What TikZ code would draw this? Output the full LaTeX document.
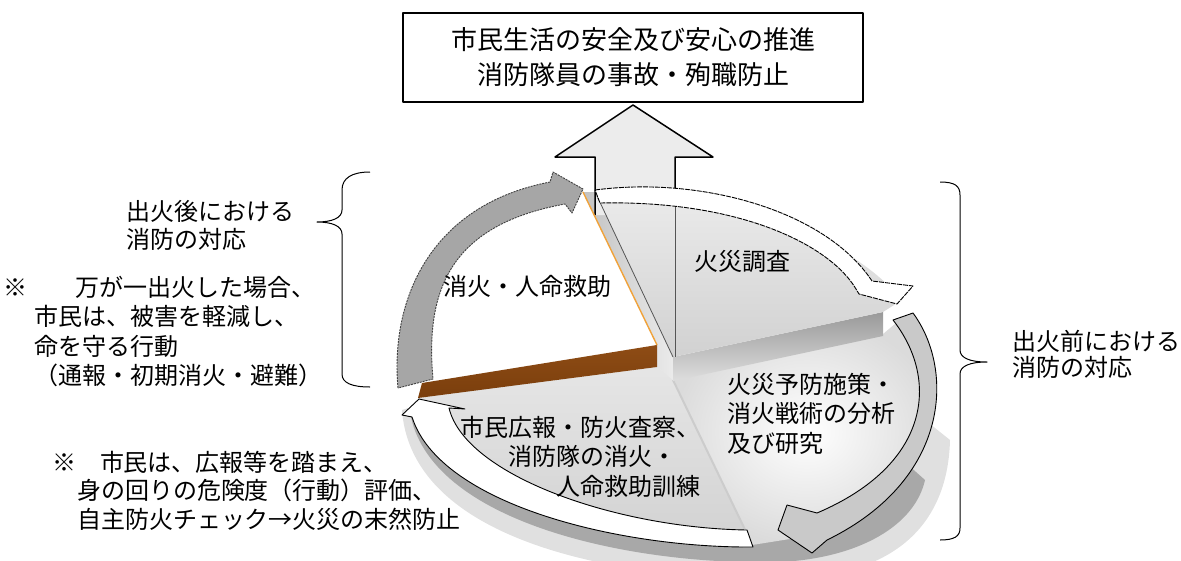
\documentclass[tikz,border=0pt]{standalone}
\usepackage{fontspec}
\setmainfont{Noto Sans CJK JP}
\definecolor{arrowgray}{HTML}{A6A6A6}
\definecolor{arrowlight}{HTML}{C9C9C9}
\definecolor{brownside}{HTML}{7A3E0C}
\definecolor{brownlight}{HTML}{8E4C15}
\definecolor{orangeedge}{HTML}{F0A23A}
\definecolor{bigarrow}{HTML}{ECECEC}
\definecolor{shadowdark}{HTML}{A8A8A8}
\definecolor{shadowsoft}{HTML}{E0E0E0}
\definecolor{edgegray}{HTML}{555555}
\begin{document}
\begin{tikzpicture}[x=1pt,y=-1pt,line join=round,
  txt/.style={inner sep=0pt,outer sep=0pt,text=black,font=\fontsize{24}{29.5}\selectfont},
  rimarrow/.style={line width=0.9pt,draw=black},
  bracestyle/.style={line width=1pt,draw=black}]
\useasboundingbox (0,0) rectangle (1181,560);

% soft shadow and side face under the pie
\fill[shadowsoft] (402,410) .. controls (412,548) and (640,584) .. (800,578)
  .. controls (900,572) and (948,520) .. (950,440) -- (900,400) -- (500,380) -- cycle;
\fill[shadowdark] (410,412) .. controls (428,522) and (630,566) .. (780,562)
  .. controls (860,558) and (915,525) .. (925,480) -- (880,440) -- (500,400) -- cycle;

% lower-left slice
\shade[top color=white!90!black,bottom color=white!82!black]
  (673,378) -- (657,367) -- (418,398) .. controls (440,500) and (620,552) .. (752,545) -- cycle;
% lower-right slice
\shade[inner color=white,outer color=white!86!black]
  (673,378) -- (883,334) -- (902,318) .. controls (940,400) and (925,490) .. (815,535) -- (752,545) -- cycle;
\draw[white!80!black,line width=2pt] (673,380) -- (750,540);

% raised slice: side wall and front band
\shade[left color=white!76!black,right color=white!92!black]
  (583,192) -- (596,192) -- (673,357) -- (673,380) -- (657,367) -- (657,345) -- cycle;
\shade[top color=white!60!black,bottom color=white!87!black]
  (673,357) -- (883,312) -- (883,336) -- (673,381) -- cycle;

% big upward arrow
\fill[bigarrow] (595,215) -- (595,157) -- (555,157) -- (633,105) -- (713,157) -- (675,157) -- (675,215) -- cycle;
\draw[line width=1.5pt] (595,215) -- (595,157) -- (555,157) -- (633,105) -- (713,157) -- (675,157) -- (675,215);

% raised slice top face
\shade[top color=white!92!black,bottom color=white!82!black]
  (597,196) -- (673,357) -- (883,312) -- (902,300) .. controls (845,232) and (725,194) .. (597,196) -- cycle;
\draw[edgegray,line width=0.8pt] (675,200) -- (675,357);
\draw[edgegray,line width=0.8pt] (597,196) -- (673,357);

% upper-left white slice with brown side
\fill[white] (583,192) -- (657,345) -- (422,383) .. controls (415,290) and (470,205) .. (560,192) -- cycle;
\shade[top color=brownlight,bottom color=brownside]
  (422,383) -- (657,345) -- (657,367) -- (418,398) -- cycle;
\draw[orangeedge,line width=1.4pt] (583,192) -- (657,345);

% ring arrows
\draw[fill=arrowgray,draw=black!75,line width=0.9pt,dash pattern=on 2pt off 1pt]
  (398,388) .. controls (390,300) and (430,205) .. (550,182) -- (553,172) -- (583,189) -- (572,213) -- (565,204)
  .. controls (450,225) and (425,290) .. (433,379) -- cycle;
\draw[rimarrow,fill=white,dash pattern=on 5pt off 1pt]
  (595,190) .. controls (700,176) and (825,210) .. (872,281) -- (913,286) -- (897,304) -- (859,294) -- (856,289)
  .. controls (830,245) and (740,200) .. (600,203) -- cycle;
\draw[rimarrow,fill=arrowlight]
  (913,313) .. controls (955,370) and (950,480) .. (827,540) -- (812,553) -- (778,530) -- (787,505) -- (817,513)
  .. controls (930,465) and (940,380) .. (893,320) -- cycle;
\draw[rimarrow,fill=white]
  (753,547) .. controls (620,548) and (440,505) .. (412,417) -- (402,415) -- (419,399) -- (465,409) -- (449,408)
  .. controls (465,475) and (615,528) .. (747,530) -- cycle;

% slice labels
\node[txt,anchor=west] (s1) at (443,286) {消火・人命救助};
\node[txt,anchor=west] (s2) at (694,261) {火災調査};
\node[txt,anchor=west,align=left] (s3) at (727,413.5) {火災予防施策・\\消火戦術の分析\\及び研究};
\node[txt,anchor=west,align=left] (s4) at (460,456.5) {市民広報・防火査察、\\　　消防隊の消火・\\　　　　人命救助訓練};

% goal box
\node[draw,line width=1.5pt,fill=white,minimum width=460pt,minimum height=89pt,inner sep=0pt,
  align=center,font=\fontsize{26}{35}\selectfont] (goal) at (633,57.5)
  {市民生活の安全及び安心の推進\\消防隊員の事故・殉職防止};

% side texts
\node[txt,anchor=west,align=left,font=\fontsize{24}{28}\selectfont] (after) at (126,225) {出火後における\\消防の対応};
\node[txt,anchor=west,align=left,font=\fontsize{24}{29.6}\selectfont] (noteA) at (4,331.5)
  {※　　万が一出火した場合、\\\hspace*{31pt}市民は、被害を軽減し、\\\hspace*{31pt}命を守る行動\\\hspace*{31pt}（通報・初期消火・避難）};
\node[txt,anchor=west,align=left,font=\fontsize{24}{28.5}\selectfont] (noteB) at (52,490.5)
  {※　市民は、広報等を踏まえ、\\\hspace*{25pt}身の回りの危険度（行動）評価、\\\hspace*{25pt}自主防火チェック→火災の末然防止};
\node[txt,anchor=west,align=left,font=\fontsize{24}{26}\selectfont] (before) at (1012,354) {出火前における\\消防の対応};

% braces
\draw[bracestyle] (370,172) .. controls (352,172) and (342,178) .. (342,190) -- (342,210)
  .. controls (342,218) and (332,222) .. (317,222) .. controls (332,222) and (342,226) .. (342,234)
  -- (342,374) .. controls (342,383) and (352,387) .. (370,387);
\draw[bracestyle] (940,182) .. controls (955,182) and (960,186) .. (960,195) -- (960,350)
  .. controls (960,358) and (970,362) .. (987,362) .. controls (970,362) and (960,366) .. (960,374)
  -- (960,528) .. controls (960,536) and (955,540) .. (940,540);
\end{tikzpicture}
\end{document}
